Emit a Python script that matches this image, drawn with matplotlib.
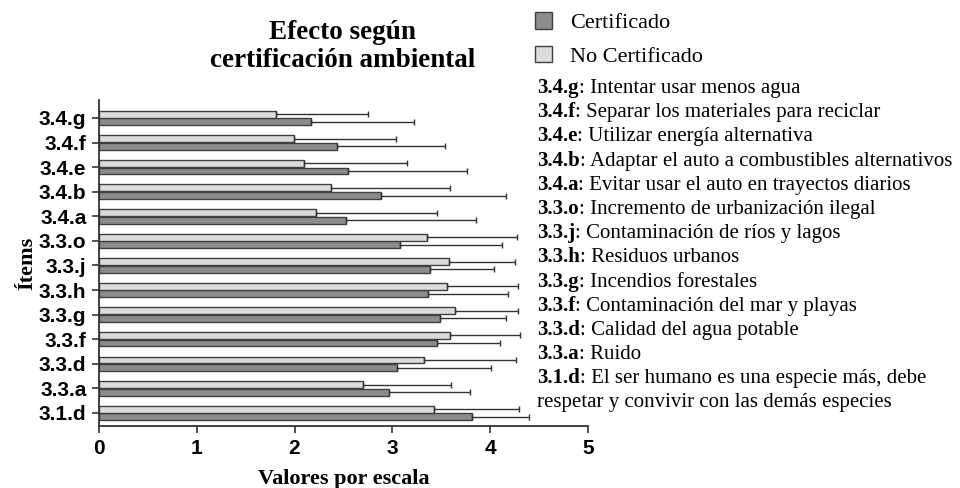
import numpy as np
import matplotlib.pyplot as plt

# Datos
items = ['3.4.g', '3.4.f', '3.4.e', '3.4.b', '3.4.a', '3.3.o', '3.3.j',
         '3.3.h', '3.3.g', '3.3.f', '3.3.d', '3.3.a', '3.1.d']
descripciones = [
    'Intentar usar menos agua',
    'Separar los materiales para reciclar',
    'Utilizar energía alternativa',
    'Adaptar el auto a combustibles alternativos',
    'Evitar usar el auto en trayectos diarios',
    'Incremento de urbanización ilegal',
    'Contaminación de ríos y lagos',
    'Residuos urbanos',
    'Incendios forestales',
    'Contaminación del mar y playas',
    'Calidad del agua potable',
    'Ruido',
    'El ser humano es una especie más, debe',
]
cert_media = [2.17, 2.43, 2.55, 2.88, 2.53, 3.08, 3.38, 3.36, 3.49, 3.46, 3.05, 2.97, 3.81]
cert_de = [1.05, 1.11, 1.21, 1.28, 1.33, 1.04, 0.66, 0.82, 0.67, 0.64, 0.96, 0.82, 0.59]
nocert_media = [1.81, 1.99, 2.10, 2.37, 2.22, 3.35, 3.58, 3.56, 3.64, 3.59, 3.32, 2.70, 3.43]
nocert_de = [0.94, 1.05, 1.05, 1.22, 1.24, 0.92, 0.67, 0.72, 0.64, 0.71, 0.94, 0.90, 0.86]

serif = 'Liberation Serif'
sans = 'Liberation Sans'

fig = plt.figure(figsize=(9.6, 4.88), dpi=100)
ax = fig.add_axes([0.103, 0.127, 0.5095, 0.668])

y = np.arange(len(items))
h = 0.28
off = 0.155
err_kw = dict(ecolor='#333333', elinewidth=1.0, capsize=2, capthick=1.0)

ax.barh(y + off, cert_media, height=h, color='#8c8c8c', edgecolor='#404040',
        linewidth=1.0, xerr=[np.zeros(len(items)), cert_de], error_kw=err_kw,
        label='Certificado')
ax.barh(y - off, nocert_media, height=h, color='#dcdcdc', edgecolor='#404040',
        linewidth=1.0, xerr=[np.zeros(len(items)), nocert_de], error_kw=err_kw,
        label='No Certificado')

ax.set_xlim(0, 5)
ax.set_ylim(12.53, -0.73)
ax.set_yticks(y)
ax.set_yticklabels(items, fontfamily=sans, fontweight='bold', fontsize=15)
ax.set_xticks(range(6))
ax.set_xticklabels([str(i) for i in range(6)], fontfamily=sans,
                   fontweight='bold', fontsize=15)
for s in ['top', 'right']:
    ax.spines[s].set_visible(False)
for s in ['left', 'bottom']:
    ax.spines[s].set_linewidth(1.3)
    ax.spines[s].set_color('#333333')
ax.tick_params(axis='both', length=5, width=1.2, color='#333333', pad=4)

ax.set_xlabel('Valores por escala', fontfamily=serif, fontweight='bold',
              fontsize=16, labelpad=8)
ax.set_ylabel('Ítems', fontfamily=serif, fontweight='bold', fontsize=16,
              labelpad=1)

fig.text(0.357, 0.905, 'Efecto según\ncertificación ambiental', ha='center',
         va='center', fontfamily=serif, fontweight='bold', fontsize=19.5,
         linespacing=1.15)

# Leyenda
ax.legend(loc='upper left', bbox_to_anchor=(0.557, 0.975),
          bbox_transform=fig.transFigure, frameon=False,
          prop={'family': serif, 'size': 16}, handlelength=0.78,
          handleheight=0.78, handletextpad=0.8, labelspacing=0.55,
          borderaxespad=0, borderpad=0)

# Lista de ítems con descripción
x0 = 537 / 960
for i, (it, d) in enumerate(zip(items, descripciones)):
    yy = 1 - (88 + 24.2 * i) / 488
    t = fig.text(x0, yy, it, fontfamily=serif, fontweight='bold',
                 fontsize=15, va='center')
    ax.annotate(': ' + d, xy=(1, 0), xycoords=t, va='bottom', ha='left',
                fontfamily=serif, fontsize=15, annotation_clip=False)
fig.text(x0, 1 - (88 + 24.2 * 13) / 488,
         'respetar y convivir con las demás especies', fontfamily=serif,
         fontsize=15, va='center')

fig.savefig('out.png', dpi=100)
